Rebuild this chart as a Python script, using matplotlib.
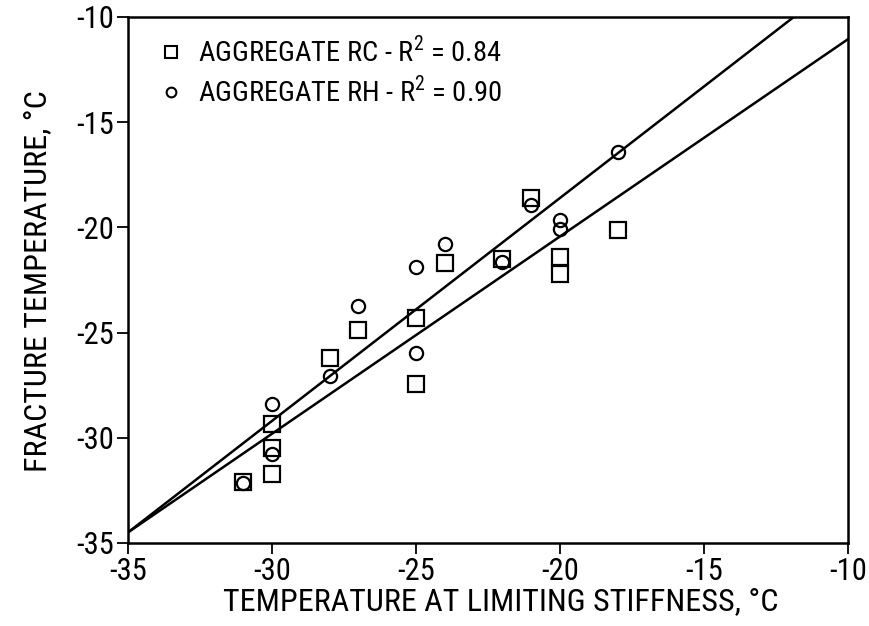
import matplotlib
matplotlib.use("Agg")
import matplotlib.pyplot as plt
import numpy as np
from matplotlib.lines import Line2D
from matplotlib import font_manager

names = {f.name for f in font_manager.fontManager.ttflist}
candidates = ['Roboto Condensed', 'DejaVu Sans Condensed', 'Liberation Sans Narrow',
              'Open Sans Condensed', 'Roboto']
family = [n for n in candidates if n in names] or ['DejaVu Sans']
base = family[0]

plt.rcParams['font.family'] = [base, 'DejaVu Sans']
plt.rcParams['font.stretch'] = 'condensed'
plt.rcParams['mathtext.fontset'] = 'custom'
plt.rcParams['mathtext.rm'] = base

# Aggregate RC (squares)
rc_x = [-31, -30, -30, -30, -28, -27, -25, -25, -24, -22, -21, -20, -20, -18]
rc_y = [-32.1, -29.35, -30.5, -31.7, -26.2, -24.9, -24.3, -27.45, -21.7,
        -21.5, -18.6, -21.4, -22.2, -20.15]

# Aggregate RH (circles)
rh_x = [-31, -30, -30, -28, -27, -25, -25, -24, -22, -21, -20, -20, -18]
rh_y = [-32.15, -28.4, -30.75, -27.05, -23.75, -21.9, -25.95, -20.8,
        -21.65, -18.95, -19.65, -20.1, -16.4]

# Fitted lines: slope, intercept
fit_slopes = [1.06, 0.938]
fit_intercepts = [2.6, -1.67]

legend_labels = [r'AGGREGATE RC - R$^2$ = 0.84', r'AGGREGATE RH - R$^2$ = 0.90']
ticks = [-35, -30, -25, -20, -15, -10]

fig = plt.figure(figsize=(8.7, 6.26), dpi=100)
ax = fig.add_axes([0.147, 0.1326, 0.828, 0.8404])

xx = np.array([-35.0, -10.0])
for m, b in zip(fit_slopes, fit_intercepts):
    ax.plot(xx, m * xx + b, color='black', lw=1.8)

ax.plot(rc_x, rc_y, linestyle='none', marker='s', markersize=11,
        markerfacecolor='none', markeredgecolor='black', markeredgewidth=1.6)
ax.plot(rh_x, rh_y, linestyle='none', marker='o', markersize=9.5,
        markerfacecolor='none', markeredgecolor='black', markeredgewidth=1.6)

ax.set_xlim(-35, -10)
ax.set_ylim(-35, -10)
ax.set_xticks(ticks)
ax.set_yticks(ticks)
ax.set_xticklabels([str(t) for t in ticks])
ax.set_yticklabels([str(t) for t in ticks])
ax.tick_params(direction='out', length=8, width=1.3, labelsize=22, pad=2)
for s in ax.spines.values():
    s.set_linewidth(1.8)

ax.set_xlabel('TEMPERATURE AT LIMITING STIFFNESS, °C', fontsize=23)
ax.set_ylabel('FRACTURE TEMPERATURE, °C', fontsize=23)
ax.xaxis.set_label_coords(0.518, -0.083)
ax.yaxis.set_label_coords(-0.105, 0.497)

handles = [
    Line2D([], [], linestyle='none', marker='s', markersize=9,
           markerfacecolor='none', markeredgecolor='black', markeredgewidth=1.5),
    Line2D([], [], linestyle='none', marker='o', markersize=7,
           markerfacecolor='none', markeredgecolor='black', markeredgewidth=1.5),
]
ax.legend(handles, legend_labels, loc='upper left', frameon=False,
          fontsize=20.5, handlelength=1.0, handletextpad=0.45,
          borderaxespad=0.3, labelspacing=0.3, bbox_to_anchor=(0.013, 1.0))

fig.savefig('out.png', dpi=100)
